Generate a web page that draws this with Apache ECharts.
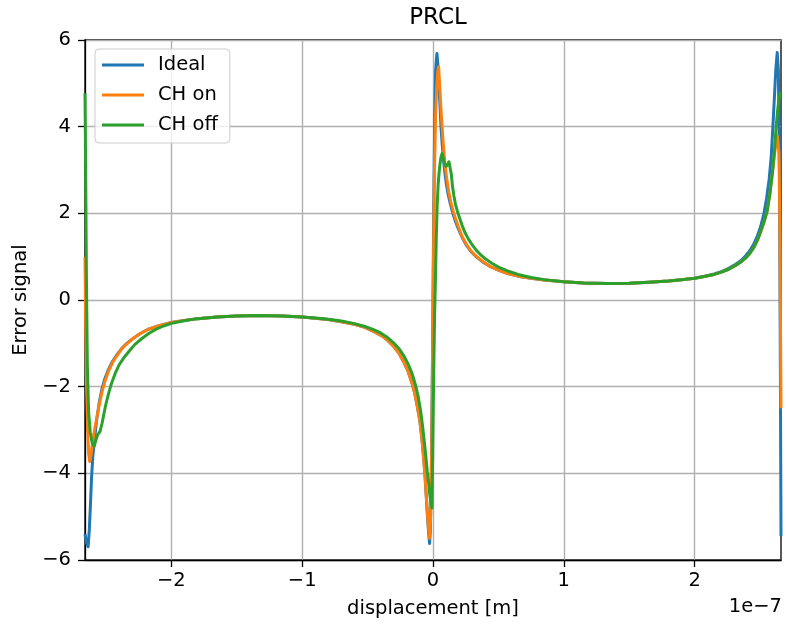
<!DOCTYPE html>
<html>
<head>
<meta charset="utf-8">
<script src="https://cdn.jsdelivr.net/npm/echarts@6/dist/echarts.min.js"></script>
<style>html,body{margin:0;padding:0;background:#fff;}#c{width:786px;height:625px;}</style>
</head>
<body>
<div id="c"></div>
<script>
// x in units of 1e-7 m
const xIdeal = [-2.66,-2.648,-2.636,-2.627,-2.618,-2.61,-2.6,-2.585,-2.57,-2.55,-2.53,-2.51,-2.48,-2.45,-2.42,-2.38,-2.34,-2.29,-2.24,-2.18,-2.1,-2.0,-1.9,-1.8,-1.65,-1.5,-1.33,-1.15,-1.0,-0.9,-0.8,-0.7,-0.6,-0.52,-0.45,-0.4,-0.35,-0.3,-0.26,-0.22,-0.19,-0.16,-0.14,-0.12,-0.1,-0.085,-0.072,-0.062,-0.052,-0.042,-0.034,-0.026,-0.02,-0.013,-0.006,0.0,0.006,0.013,0.02,0.03,0.038,0.046,0.054,0.061,0.07,0.08,0.09,0.1,0.115,0.13,0.15,0.17,0.19,0.22,0.25,0.29,0.33,0.38,0.44,0.5,0.57,0.65,0.75,0.85,1.0,1.15,1.33,1.5,1.65,1.8,1.9,2.0,2.08,2.15,2.21,2.26,2.31,2.35,2.39,2.42,2.45,2.48,2.505,2.53,2.55,2.57,2.585,2.598,2.61,2.62,2.631,2.64,2.648,2.655,2.66];
const yIdeal = [-5.4,-5.62,-5.69,-5.3,-4.7,-4.1,-3.6,-3.15,-2.75,-2.35,-2.05,-1.83,-1.6,-1.42,-1.28,-1.12,-1.0,-0.88,-0.78,-0.68,-0.6,-0.52,-0.47,-0.43,-0.39,-0.37,-0.36,-0.37,-0.39,-0.42,-0.45,-0.5,-0.56,-0.63,-0.73,-0.81,-0.92,-1.07,-1.23,-1.45,-1.65,-1.92,-2.15,-2.45,-2.8,-3.2,-3.6,-4.0,-4.5,-5.0,-5.35,-5.62,-5.3,-4.0,-2.0,0.0,2.2,4.2,5.3,5.69,5.4,4.9,4.45,4.0,3.6,3.25,2.95,2.72,2.45,2.25,2.02,1.83,1.67,1.46,1.29,1.12,1.0,0.88,0.77,0.69,0.61,0.55,0.5,0.46,0.42,0.39,0.38,0.385,0.41,0.44,0.47,0.5,0.55,0.6,0.66,0.73,0.82,0.9,1.02,1.13,1.28,1.48,1.7,2.0,2.35,2.8,3.3,4.0,4.7,5.3,5.71,5.3,3.0,-1.5,-5.45];

const xChOn = [-2.66,-2.655,-2.648,-2.64,-2.632,-2.624,-2.615,-2.605,-2.59,-2.572,-2.55,-2.53,-2.51,-2.48,-2.45,-2.42,-2.38,-2.34,-2.29,-2.24,-2.18,-2.1,-2.0,-1.9,-1.8,-1.65,-1.5,-1.33,-1.15,-1.0,-0.9,-0.8,-0.7,-0.6,-0.52,-0.45,-0.4,-0.35,-0.3,-0.26,-0.22,-0.19,-0.16,-0.14,-0.12,-0.1,-0.085,-0.072,-0.06,-0.05,-0.04,-0.032,-0.025,-0.018,-0.01,-0.004,0.002,0.01,0.02,0.03,0.037,0.043,0.05,0.058,0.066,0.075,0.085,0.095,0.105,0.12,0.135,0.155,0.175,0.195,0.22,0.25,0.29,0.33,0.38,0.44,0.5,0.57,0.65,0.75,0.85,1.0,1.15,1.33,1.5,1.65,1.8,1.9,2.0,2.08,2.15,2.21,2.26,2.31,2.35,2.39,2.42,2.45,2.48,2.505,2.53,2.554,2.575,2.595,2.61,2.622,2.632,2.638,2.645,2.652,2.66];
const yChOn = [1.0,-0.5,-2.0,-3.0,-3.55,-3.73,-3.6,-3.35,-3.05,-2.75,-2.4,-2.12,-1.9,-1.64,-1.45,-1.3,-1.13,-1.01,-0.88,-0.78,-0.68,-0.6,-0.52,-0.47,-0.43,-0.39,-0.37,-0.36,-0.37,-0.39,-0.42,-0.45,-0.5,-0.56,-0.63,-0.73,-0.81,-0.92,-1.07,-1.23,-1.45,-1.65,-1.92,-2.15,-2.45,-2.8,-3.2,-3.65,-4.1,-4.6,-5.05,-5.35,-5.5,-5.0,-3.4,-1.5,0.5,2.8,4.3,5.0,5.3,5.38,5.0,4.55,4.15,3.75,3.35,3.05,2.8,2.5,2.27,2.04,1.85,1.68,1.48,1.31,1.13,1.01,0.89,0.77,0.69,0.61,0.55,0.5,0.46,0.42,0.39,0.38,0.385,0.41,0.44,0.47,0.5,0.55,0.59,0.65,0.71,0.79,0.87,0.97,1.07,1.2,1.38,1.58,1.8,2.05,2.45,2.95,3.35,3.62,3.78,3.81,3.4,1.5,-2.5];

const xChOff = [-2.66,-2.655,-2.649,-2.642,-2.632,-2.62,-2.605,-2.59,-2.578,-2.565,-2.555,-2.545,-2.53,-2.515,-2.5,-2.48,-2.457,-2.43,-2.4,-2.36,-2.32,-2.28,-2.23,-2.176,-2.12,-2.06,-2.0,-1.9,-1.8,-1.65,-1.5,-1.33,-1.15,-1.0,-0.9,-0.8,-0.7,-0.6,-0.52,-0.45,-0.4,-0.35,-0.3,-0.26,-0.22,-0.19,-0.16,-0.135,-0.115,-0.095,-0.08,-0.067,-0.055,-0.044,-0.034,-0.024,-0.015,-0.008,-0.002,0.005,0.012,0.018,0.025,0.032,0.04,0.05,0.06,0.069,0.077,0.087,0.1,0.112,0.122,0.13,0.14,0.15,0.16,0.171,0.185,0.2,0.22,0.245,0.27,0.3,0.33,0.362,0.4,0.45,0.5,0.57,0.65,0.75,0.85,1.0,1.15,1.33,1.5,1.65,1.8,1.9,2.0,2.08,2.15,2.21,2.26,2.31,2.35,2.39,2.42,2.45,2.48,2.505,2.53,2.554,2.575,2.595,2.61,2.623,2.635,2.645,2.654,2.66];
const yChOff = [4.77,3.0,0.5,-1.5,-2.6,-3.05,-3.3,-3.38,-3.25,-3.12,-3.08,-3.03,-2.85,-2.62,-2.4,-2.16,-1.92,-1.7,-1.5,-1.32,-1.17,-1.03,-0.9,-0.78,-0.68,-0.6,-0.54,-0.48,-0.43,-0.39,-0.37,-0.36,-0.37,-0.39,-0.415,-0.445,-0.485,-0.545,-0.61,-0.69,-0.76,-0.86,-0.99,-1.12,-1.3,-1.48,-1.7,-1.95,-2.2,-2.55,-2.9,-3.25,-3.6,-3.95,-4.2,-4.5,-4.7,-4.8,-3.5,-1.8,-0.4,0.4,1.4,2.2,2.7,3.05,3.28,3.38,3.3,3.15,3.08,3.13,3.19,3.17,2.9,2.6,2.4,2.22,2.06,1.92,1.74,1.55,1.41,1.27,1.15,1.05,0.95,0.85,0.76,0.67,0.59,0.52,0.47,0.42,0.39,0.38,0.385,0.41,0.44,0.47,0.5,0.55,0.59,0.65,0.71,0.79,0.87,0.97,1.07,1.2,1.38,1.58,1.8,2.05,2.45,2.95,3.45,4.0,4.4,4.65,4.77,4.77];

const seriesNames = ['Ideal', 'CH on', 'CH off'];
const xTicks = [-2, -1, 0, 1, 2];

const zip = (xs, ys) => xs.map((x, i) => [x, ys[i]]);
const colors = ['#1f77b4', '#ff7f0e', '#2ca02c'];
const FONT = 'DejaVu Sans';
const FS = 19.5;
const minusFmt = v => String(v).replace('-', '\u2212');

const chart = echarts.init(document.getElementById('c'), null, {renderer: 'canvas'});
chart.setOption({
  animation: false,
  backgroundColor: '#fff',
  title: {
    text: 'PRCL', left: 433, top: 2, textAlign: 'center',
    textStyle: {fontFamily: FONT, fontSize: 23, fontWeight: 'normal', color: '#000'}
  },
  legend: {
    data: seriesNames, orient: 'vertical', left: 95, top: 49,
    icon: 'rect', itemWidth: 42, itemHeight: 3, itemGap: 10,
    padding: [6, 12, 8, 7],
    backgroundColor: 'rgba(255,255,255,0.8)', borderColor: '#cccccc', borderWidth: 1, borderRadius: 4,
    textStyle: {fontFamily: FONT, fontSize: FS, lineHeight: 20, color: '#000', padding: [0, 0, 0, 9]}
  },
  grid: {left: 85, right: 5, top: 40, bottom: 65, show: true, borderColor: '#000', borderWidth: 1.3, containLabel: false},
  xAxis: {
    type: 'value', min: -2.66, max: 2.66,
    name: 'displacement [m]', nameLocation: 'middle', nameGap: 39,
    nameTextStyle: {fontFamily: FONT, fontSize: FS, color: '#000'},
    axisLine: {show: true, onZero: false, lineStyle: {color: '#000', width: 1.3}},
    axisTick: {show: true, inside: false, length: 7, customValues: xTicks, lineStyle: {color: '#000', width: 1.3}},
    axisLabel: {customValues: xTicks, margin: 11, fontFamily: FONT, fontSize: FS, color: '#000', formatter: minusFmt},
    splitLine: {show: true, lineStyle: {color: '#b0b0b0', width: 1.4}}
  },
  yAxis: {
    type: 'value', min: -6, max: 6, interval: 2,
    name: 'Error signal', nameLocation: 'middle', nameGap: 52,
    nameTextStyle: {fontFamily: FONT, fontSize: FS, color: '#000'},
    axisLine: {show: true, onZero: false, lineStyle: {color: '#000', width: 1.3}},
    axisTick: {show: true, inside: false, length: 7, lineStyle: {color: '#000', width: 1.3}},
    axisLabel: {margin: 14, fontFamily: FONT, fontSize: FS, color: '#000', formatter: minusFmt},
    splitLine: {show: true, lineStyle: {color: '#b0b0b0', width: 1.4}}
  },
  graphic: [{
    type: 'text', right: 4, top: 597,
    style: {text: '1e\u22127', fontFamily: FONT, fontSize: FS, fill: '#000'}
  }],
  series: [
    {name: seriesNames[0], data: zip(xIdeal, yIdeal)},
    {name: seriesNames[1], data: zip(xChOn, yChOn)},
    {name: seriesNames[2], data: zip(xChOff, yChOff)}
  ].map((s, i) => Object.assign(s, {
    type: 'line', symbol: 'none', showSymbol: false, smooth: false, clip: true,
    itemStyle: {color: colors[i]},
    lineStyle: {color: colors[i], width: 3, join: 'round'}
  }))
});
</script>
</body>
</html>
